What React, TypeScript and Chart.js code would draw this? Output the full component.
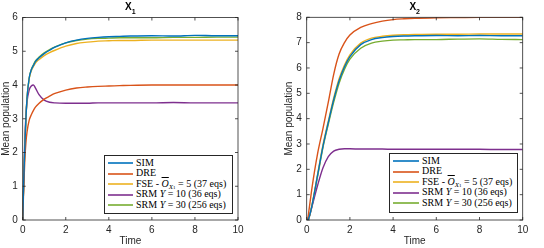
import React, { useEffect, useRef } from "react";
import { Chart, registerables } from "chart.js";
Chart.register(...registerables);

// ---- X1 panel data ----
const timesX1 = [0, 0.05, 0.1, 0.15, 0.2, 0.3, 0.4, 0.5, 0.6, 0.75, 1, 1.25, 1.5, 2, 2.5, 3, 3.5, 4, 4.5, 5, 6, 7, 8, 9, 10];
const simX1 = [0, 1.2, 2.2, 3.0, 3.6, 4.2, 4.45, 4.58, 4.7, 4.8, 4.93, 5.03, 5.12, 5.25, 5.33, 5.38, 5.41, 5.43, 5.44, 5.45, 5.46, 5.45, 5.47, 5.46, 5.46];
const dreX1 = [0, 1.0, 1.8, 2.3, 2.6, 2.95, 3.12, 3.25, 3.35, 3.45, 3.58, 3.67, 3.75, 3.85, 3.91, 3.94, 3.96, 3.97, 3.98, 3.99, 4.0, 4.0, 4.0, 4.0, 4.0];
const fseX1 = [0, 1.2, 2.2, 3.0, 3.6, 4.18, 4.42, 4.55, 4.66, 4.75, 4.87, 4.96, 5.03, 5.15, 5.23, 5.27, 5.3, 5.31, 5.32, 5.32, 5.33, 5.33, 5.33, 5.33, 5.33];
const srm10X1 = [0, 1.3, 2.4, 3.1, 3.5, 3.85, 3.97, 4.0, 3.9, 3.72, 3.55, 3.49, 3.47, 3.46, 3.46, 3.46, 3.47, 3.47, 3.47, 3.47, 3.47, 3.48, 3.47, 3.47, 3.47];
const srm30X1 = [0, 1.2, 2.2, 3.0, 3.6, 4.2, 4.46, 4.6, 4.72, 4.82, 4.95, 5.05, 5.13, 5.25, 5.32, 5.36, 5.38, 5.39, 5.4, 5.4, 5.4, 5.41, 5.41, 5.42, 5.42];

// ---- X2 panel data ----
const timesX2 = [0, 0.05, 0.1, 0.25, 0.5, 0.75, 1, 1.25, 1.5, 1.75, 2, 2.5, 3, 3.5, 4, 4.5, 5, 6, 7, 8, 9, 10];
const simX2 = [0, 0, 0.08, 0.6, 1.75, 2.9, 3.85, 4.75, 5.5, 6.05, 6.45, 6.92, 7.12, 7.2, 7.24, 7.26, 7.27, 7.28, 7.27, 7.28, 7.27, 7.27];
const dreX2 = [0, 0.05, 0.35, 1.3, 2.6, 3.6, 4.65, 5.75, 6.55, 7.0, 7.3, 7.6, 7.75, 7.85, 7.91, 7.94, 7.96, 7.98, 7.99, 8.0, 8.0, 8.0];
const fseX2 = [0, 0, 0.08, 0.62, 1.78, 2.95, 3.9, 4.82, 5.58, 6.12, 6.52, 6.98, 7.18, 7.25, 7.29, 7.31, 7.32, 7.33, 7.33, 7.34, 7.34, 7.34];
const srm10X2 = [0, 0, 0.08, 0.55, 1.35, 2.05, 2.5, 2.72, 2.79, 2.81, 2.81, 2.8, 2.8, 2.8, 2.79, 2.79, 2.79, 2.79, 2.79, 2.79, 2.78, 2.78];
const srm30X2 = [0, 0, 0.07, 0.58, 1.7, 2.85, 3.78, 4.65, 5.4, 5.95, 6.35, 6.78, 6.98, 7.06, 7.1, 7.11, 7.12, 7.12, 7.14, 7.15, 7.13, 7.12];

const seriesNames = ["SIM", "DRE", "FSE", "SRM Y=10", "SRM Y=30"];
const seriesColors = ["#0072BD", "#D95319", "#EDB120", "#7E2F8E", "#77AC30"];
const xTickStep = 2;
const xMax = 10;

const AXIS = "#262626";
const TICK_FONT = { family: "'Liberation Sans', Arial, sans-serif", size: 10 };

const boxPlugin = {
  id: "matlabBox",
  afterDatasetsDraw(chart: any) {
    const { ctx, chartArea: a, scales } = chart;
    ctx.save();
    ctx.strokeStyle = AXIS;
    ctx.lineWidth = 0.8;
    ctx.strokeRect(a.left, a.top, a.right - a.left, a.bottom - a.top);
    const L = 3;
    ctx.beginPath();
    scales.x.ticks.forEach((t: any) => {
      const px = scales.x.getPixelForValue(t.value);
      ctx.moveTo(px, a.bottom);
      ctx.lineTo(px, a.bottom - L);
      ctx.moveTo(px, a.top);
      ctx.lineTo(px, a.top + L);
    });
    scales.y.ticks.forEach((t: any) => {
      const py = scales.y.getPixelForValue(t.value);
      ctx.moveTo(a.left, py);
      ctx.lineTo(a.left + L, py);
      ctx.moveTo(a.right, py);
      ctx.lineTo(a.right - L, py);
    });
    ctx.stroke();
    ctx.restore();
  },
};

type PanelProps = {
  left: number;
  times: number[];
  series: number[][];
  yMax: number;
  padLeft: number;
  yWidth: number;
  padRight: number;
  padTop: number;
};

function Panel({ left, times, series, yMax, padLeft, yWidth, padRight, padTop }: PanelProps) {
  const ref = useRef<HTMLCanvasElement | null>(null);
  useEffect(() => {
    if (!ref.current) return;
    const chart = new Chart(ref.current, {
      type: "line",
      data: {
        datasets: series.map((vals, i) => ({
          label: seriesNames[i],
          data: times.map((t, j) => ({ x: t, y: vals[j] })),
          borderColor: seriesColors[i],
          backgroundColor: seriesColors[i],
          borderWidth: 1.4,
          pointRadius: 0,
          cubicInterpolationMode: "monotone" as const,
          fill: false,
        })),
      },
      options: {
        responsive: false,
        animation: false,
        layout: { padding: { left: padLeft, right: padRight, top: padTop, bottom: 0 } },
        plugins: { legend: { display: false }, title: { display: false }, tooltip: { enabled: false } },
        scales: {
          x: {
            type: "linear",
            min: 0,
            max: xMax,
            grid: { display: false, drawTicks: false },
            border: { display: false },
            ticks: { stepSize: xTickStep, color: AXIS, font: TICK_FONT, padding: 4, maxRotation: 0 },
            title: { display: true, text: "Time", color: AXIS, font: TICK_FONT, padding: { top: 0, bottom: 1 } },
            afterFit: (s: any) => { s.height = 28; },
          },
          y: {
            type: "linear",
            min: 0,
            max: yMax,
            grid: { display: false, drawTicks: false },
            border: { display: false },
            ticks: { stepSize: 1, color: AXIS, font: TICK_FONT, padding: 5 },
            title: { display: true, text: "Mean population", color: AXIS, font: TICK_FONT, padding: { top: 0, bottom: 0 } },
            afterFit: (s: any) => { s.width = yWidth; },
          },
        },
      },
      plugins: [boxPlugin],
    });
    return () => chart.destroy();
  }, []);
  return (
    <canvas
      ref={ref}
      width={272}
      height={248}
      style={{ position: "absolute", left, top: 0, width: 272, height: 248 }}
    />
  );
}

const serif = "'Liberation Serif', 'DejaVu Serif', serif";

function LegendBox({ left, top, width, height, lineLen }: { left: number; top: number; width: number; height: number; lineLen: number }) {
  const labels: React.ReactNode[] = [
    <span>SIM</span>,
    <span>DRE</span>,
    <span>
      FSE - <span style={{ fontStyle: "italic", textDecoration: "overline" }}>O</span>
      <span style={{ fontSize: 7, position: "relative", top: 2 }}>
        <i>X</i>
        <span style={{ fontSize: 5 }}>1</span>
      </span>{" "}
      = 5 (37 eqs)
    </span>,
    <span>
      SRM <i>Y</i> = 10 (36 eqs)
    </span>,
    <span>
      SRM <i>Y</i> = 30 (256 eqs)
    </span>,
  ];
  return (
    <div
      style={{
        position: "absolute",
        left,
        top,
        width,
        height,
        boxSizing: "border-box",
        border: `1px solid ${AXIS}`,
        background: "#fff",
        paddingTop: 1.5,
        fontFamily: serif,
        fontSize: 10,
        color: "#000",
      }}
    >
      {labels.map((lab, i) => (
        <div key={i} style={{ position: "relative", height: 10.5, lineHeight: "10.5px", whiteSpace: "nowrap", paddingLeft: lineLen + 6 }}>
          <svg
            width={lineLen}
            height={4}
            style={{ position: "absolute", left: 3, top: 3.5 }}
          >
            <line x1={0} y1={2} x2={lineLen} y2={2} stroke={seriesColors[i]} strokeWidth={1.6} />
          </svg>
          {lab}
        </div>
      ))}
    </div>
  );
}

function Title({ left, width, sub }: { left: number; width: number; sub: string }) {
  return (
    <div
      style={{
        position: "absolute",
        left,
        width,
        top: 1,
        textAlign: "center",
        fontFamily: "'Liberation Sans', Arial, sans-serif",
        fontWeight: "bold",
        fontSize: 10,
        color: "#000",
      }}
    >
      X<span style={{ fontSize: 7, position: "relative", top: 4 }}>{sub}</span>
    </div>
  );
}

export default function App() {
  return (
    <div style={{ position: "fixed", left: 0, top: 0, width: 544, height: 248, background: "#fff", overflow: "hidden" }}>
      <Panel
        left={0}
        times={timesX1}
        series={[simX1, dreX1, fseX1, srm10X1, srm30X1]}
        yMax={6}
        padLeft={0}
        yWidth={22.7}
        padRight={34}
        padTop={17.5}
      />
      <Panel
        left={272}
        times={timesX2}
        series={[simX2, dreX2, fseX2, srm10X2, srm30X2]}
        yMax={8}
        padLeft={11}
        yWidth={23.7}
        padRight={21.3}
        padTop={17.3}
      />
      <Title left={22.7} width={215.3} sub="1" />
      <Title left={306.7} width={216} sub="2" />
      <LegendBox left={104} top={155} width={128.7} height={59} lineLen={25} />
      <LegendBox left={389} top={153.3} width={129} height={60} lineLen={26} />
    </div>
  );
}
